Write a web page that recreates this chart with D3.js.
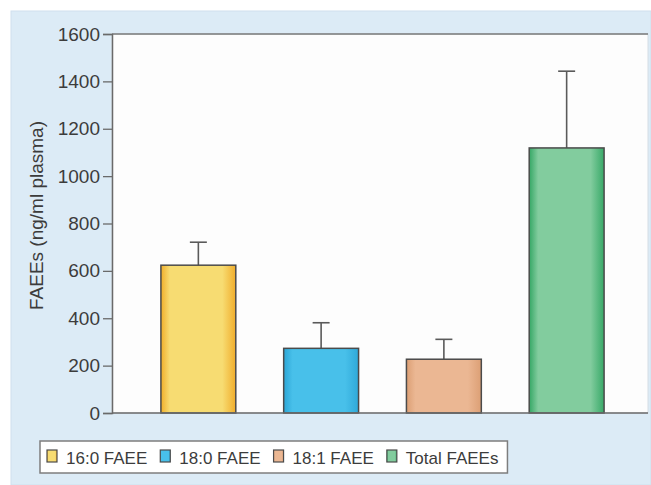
<!DOCTYPE html>
<html>
<head>
<meta charset="utf-8">
<script src="https://cdn.jsdelivr.net/npm/d3@7/dist/d3.min.js"></script>
<style>
  html, body { margin: 0; padding: 0; background: #ffffff; }
  svg { display: block; }
  text { font-family: "Liberation Sans", Arial, sans-serif; fill: #3c3c3c; }
</style>
</head>
<body>
<script>
// FAEE concentrations in plasma (mean with upper error bar)
const categories = ["16:0 FAEE", "18:0 FAEE", "18:1 FAEE", "Total FAEEs"];
const means      = [624, 273, 227, 1119];
const errorTops  = [721, 381, 311, 1443];
const yTicks     = [0, 200, 400, 600, 800, 1000, 1200, 1400, 1600];
const yTitle     = "FAEEs (ng/ml plasma)";

// fill gradients per series: [left edge, centre, right edge]
const barStops = [
  ["#f0ae2a", "#f7dc72", "#f0ad2c"],
  ["#2ba6d6", "#48c0ea", "#2fa9d9"],
  ["#dc9f74", "#ebb793", "#dc9f75"],
  ["#35a765", "#82cc9e", "#38a968"]
];

const W = 651, H = 485;
const plot = { left: 112, right: 648, top: 34, bottom: 413 };

const svg = d3.select("body").append("svg")
  .attr("width", W).attr("height", H);

// light blue panel
svg.append("rect")
  .attr("x", 11).attr("y", 11).attr("width", W - 11).attr("height", H - 11)
  .attr("fill", "#dcebf6").attr("stroke", "#cfe0ee").attr("stroke-width", 1);

// white plotting area
svg.append("rect")
  .attr("x", plot.left).attr("y", plot.top)
  .attr("width", plot.right - plot.left).attr("height", plot.bottom - plot.top)
  .attr("fill", "#fdfdfd").attr("stroke", "#d4dde4").attr("stroke-width", 1);

const x = d3.scaleBand()
  .domain(categories)
  .range([plot.left + 3, plot.right + 2])
  .paddingInner(0.39)
  .paddingOuter(0.374);

const y = d3.scaleLinear().domain([0, 1600]).range([plot.bottom, plot.top]);

// gradients
const defs = svg.append("defs");
categories.forEach((c, i) => {
  const g = defs.append("linearGradient")
    .attr("id", "grad" + i).attr("x1", "0").attr("x2", "1").attr("y1", "0").attr("y2", "0");
  const s = barStops[i];
  g.append("stop").attr("offset", "0").attr("stop-color", s[0]);
  g.append("stop").attr("offset", "0.12").attr("stop-color", s[1]);
  g.append("stop").attr("offset", "0.5").attr("stop-color", s[1]);
  g.append("stop").attr("offset", "0.82").attr("stop-color", s[1]);
  g.append("stop").attr("offset", "1").attr("stop-color", s[2]);
});

// error bars (drawn first so bars cover the lower end)
const err = svg.append("g").attr("stroke", "#5a5a5a").attr("stroke-width", 1.6);
categories.forEach((c, i) => {
  const cx = x(c) + x.bandwidth() / 2;
  err.append("line")
    .attr("x1", cx).attr("x2", cx)
    .attr("y1", y(means[i])).attr("y2", y(errorTops[i]));
  err.append("line")
    .attr("x1", cx - 8.5).attr("x2", cx + 8.5)
    .attr("y1", y(errorTops[i])).attr("y2", y(errorTops[i]));
});

// bars
svg.append("g").selectAll("rect")
  .data(categories)
  .join("rect")
  .attr("x", d => x(d))
  .attr("y", (d, i) => y(means[i]))
  .attr("width", x.bandwidth())
  .attr("height", (d, i) => y(0) - y(means[i]))
  .attr("fill", (d, i) => `url(#grad${i})`)
  .attr("stroke", "#4b4b4b")
  .attr("stroke-width", 1.5);

// top frame line and baseline
svg.append("line")
  .attr("x1", plot.left).attr("x2", plot.right)
  .attr("y1", plot.top).attr("y2", plot.top)
  .attr("stroke", "#7a7a7a").attr("stroke-width", 1.5);
svg.append("line")
  .attr("x1", plot.left).attr("x2", plot.right)
  .attr("y1", plot.bottom).attr("y2", plot.bottom)
  .attr("stroke", "#6a6a6a").attr("stroke-width", 1.5);

// y axis
const yAxis = svg.append("g")
  .attr("transform", `translate(${plot.left},0)`)
  .call(d3.axisLeft(y).tickValues(yTicks).tickSize(9).tickPadding(3).tickFormat(d3.format("d")));
yAxis.select(".domain").attr("stroke", "#6a6a6a").attr("stroke-width", 1.5);
yAxis.selectAll(".tick line").attr("stroke", "#6a6a6a").attr("stroke-width", 1.3);
yAxis.selectAll(".tick text")
  .attr("font-size", 19)
  .attr("fill", "#444444")
  .attr("font-family", "'Liberation Sans', Arial, sans-serif");

// y title
svg.append("text")
  .attr("transform", `translate(43,${(plot.top + plot.bottom) / 2 - 8}) rotate(-90)`)
  .attr("text-anchor", "middle")
  .attr("font-size", 19)
  .attr("fill", "#444444")
  .text(yTitle);

// legend
const leg = svg.append("g");
const legBox = leg.append("rect")
  .attr("x", 40).attr("y", 441).attr("width", 463).attr("height", 32)
  .attr("fill", "#ffffff").attr("stroke", "#7e7e7e").attr("stroke-width", 1.5);
let lx = 47;
categories.forEach((c, i) => {
  leg.append("rect")
    .attr("x", lx).attr("y", 450).attr("width", 10).attr("height", 12)
    .attr("fill", `url(#grad${i})`)
    .attr("stroke", "#4b4b4b").attr("stroke-width", 1.2);
  const t = leg.append("text")
    .attr("x", lx + 19).attr("y", 464)
    .attr("font-size", 17)
    .attr("fill", "#3a3a3a")
    .text(c);
  lx += 19 + t.node().getComputedTextLength() + 13;
});
legBox.attr("width", lx - 13 + 9 - 40);
</script>
</body>
</html>
